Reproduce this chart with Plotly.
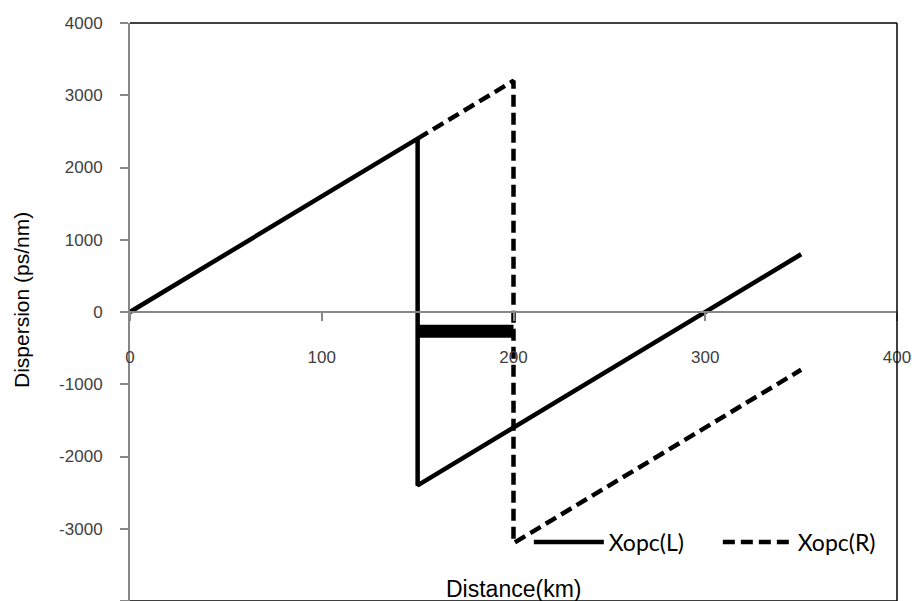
import plotly.graph_objects as go

# Dispersion map: distance along the link (km) vs accumulated dispersion (ps/nm)
dist_L = [0, 150, 150, 350]
disp_L = [0, 2400, -2400, 800]

dist_R = [150, 200, 200, 350]
disp_R = [2400, 3200, -3200, -800]

# residual-dispersion band between the two conjugator positions
dist_band = [150, 200]
disp_band = [-265, -265]

x_ticks = [0, 100, 200, 300, 400]
y_ticks = [-4000, -3000, -2000, -1000, 0, 1000, 2000, 3000, 4000]
y_tick_text = ["-4000", "-3000", "-2000", "-1000", "0", "1000", "2000", "3000", "4000"]

fig = go.Figure()

fig.add_trace(go.Scatter(
    x=dist_band, y=disp_band, mode="lines",
    line=dict(color="black", width=13), showlegend=False, hoverinfo="skip",
))
fig.add_trace(go.Scatter(
    x=dist_L, y=disp_L, mode="lines", name="Xopc(L)",
    line=dict(color="black", width=4.5),
))
fig.add_trace(go.Scatter(
    x=dist_R, y=disp_R, mode="lines", name="Xopc(R)",
    line=dict(color="black", width=4.5, dash="12px,6px"),
))

axis_gray = "#878787"
tick_font = dict(family="Liberation Sans, Arial, sans-serif", size=17, color="#404040")

fig.update_layout(
    width=912, height=601, autosize=False,
    margin=dict(l=130, r=15, t=23, b=0),
    paper_bgcolor="white", plot_bgcolor="white",
    xaxis=dict(
        range=[0, 400], tickvals=x_ticks, ticks="outside", ticklen=8, tickwidth=1.5,
        tickcolor=axis_gray, showline=True, linecolor=axis_gray, linewidth=2,
        showgrid=False, zeroline=False, anchor="free", position=0.5,
        tickfont=tick_font, ticklabelstandoff=22,
    ),
    yaxis=dict(
        range=[-4000, 4000], domain=[0, 1], tickvals=y_ticks, ticktext=y_tick_text,
        ticks="outside", ticklen=8, tickwidth=1.5, tickcolor=axis_gray,
        showline=True, linecolor=axis_gray, linewidth=2,
        showgrid=False, zeroline=False, tickfont=tick_font, ticklabelstandoff=14,
    ),
    legend=dict(
        orientation="h", x=0.52, y=0.102, xanchor="left", yanchor="middle",
        font=dict(family="Lato, sans-serif", size=23, color="black"),
        bgcolor="rgba(0,0,0,0)", itemwidth=70, entrywidth=104,
    ),
    shapes=[
        dict(type="line", xref="paper", yref="paper", x0=0, x1=1, y0=1, y1=1,
             line=dict(color="black", width=1.5)),
        dict(type="line", xref="paper", yref="paper", x0=1, x1=1, y0=0, y1=1,
             line=dict(color="black", width=1.5)),
        dict(type="line", xref="paper", yref="paper", x0=0, x1=1, y0=0, y1=0,
             line=dict(color="black", width=1.5)),
    ],
    annotations=[
        dict(text="Distance(km)", xref="paper", yref="paper", x=0.5, y=0,
             xanchor="center", yanchor="bottom", yshift=-3, showarrow=False,
             font=dict(family="Liberation Sans, Arial, sans-serif", size=23, color="black")),
        dict(text="Dispersion (ps/nm)", xref="paper", yref="paper", x=-0.1408, y=0.5208,
             xanchor="center", yanchor="middle", textangle=-90, showarrow=False,
             font=dict(family="Liberation Sans, Arial, sans-serif", size=21, color="black")),
    ],
)

fig.write_html("out.html")
